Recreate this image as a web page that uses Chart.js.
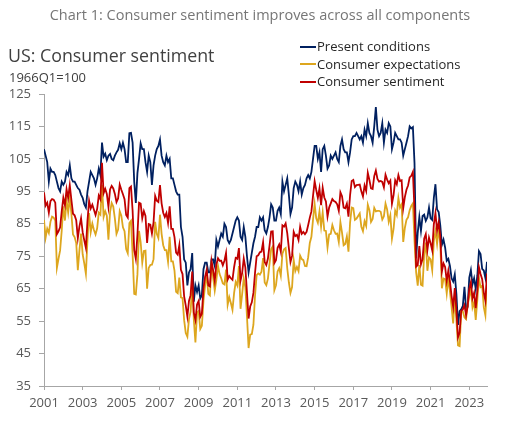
<!DOCTYPE html>
<html>
<head>
<meta charset="utf-8">
<script src="https://cdn.jsdelivr.net/npm/chart.js@4.4.1/dist/chart.umd.min.js"></script>
<style>
  html, body { margin: 0; padding: 0; background: #fff; }
  #wrap { position: relative; width: 508px; height: 428px; font-family: "Open Sans", sans-serif; }
  #chart { position: absolute; left: 0; top: 0; }
  .txt { position: absolute; white-space: nowrap; }
  #title { left: 0; width: 520px; top: 6px; text-align: center; font-size: 14.5px; line-height: 18px; color: #767676; }
  #heading { left: 8px; top: 43px; font-size: 17.8px; line-height: 24px; color: #404040; }
  #unit { left: 9px; top: 68px; font-size: 13px; line-height: 18px; color: #404040; }
  .leg { left: 300px; font-size: 13px; line-height: 18px; color: #262626; }
  .leg span { display: inline-block; width: 16px; height: 2px; vertical-align: middle; margin-right: 1px; position: relative; top: -1px; }
</style>
</head>
<body>
<div id="wrap">
  <canvas id="chart" width="508" height="428"></canvas>
  <div class="txt" id="title">Chart 1: Consumer sentiment improves across all components</div>
  <div class="txt" id="heading">US: Consumer sentiment</div>
  <div class="txt" id="unit">1966Q1=100</div>
  <div class="txt leg" style="top:37px"><span style="background:#002060"></span>Present conditions</div>
  <div class="txt leg" style="top:54.5px"><span style="background:#DDA61E"></span>Consumer expectations</div>
  <div class="txt leg" style="top:72px"><span style="background:#C00000"></span>Consumer sentiment</div>
</div>
<script>
// monthly, Jan 2001 - Dec 2023
const startYear = 2001;

const presentConditions = [
  108, 106, 104, 98, 102, 101, 101, 100, 98, 96, 95, 98,
  97, 98, 101, 100, 103, 99, 98, 98, 97, 96, 95.5, 94,
  93, 91, 90, 95, 98, 101, 100, 99, 97, 99, 102, 100,
  110, 105.7, 106.6, 104.6, 106, 106.5, 105, 104.6, 106, 107, 107.8, 109.8,
  108, 110, 108, 104, 104, 112.9, 113, 110, 98, 91.4, 100.6, 105,
  109.8, 108, 108, 104, 101, 106, 104, 97, 103, 106, 108, 109,
  111, 106, 104, 103, 106, 104, 105, 99, 99, 97, 95, 94,
  94, 84, 81, 74, 73, 66, 70, 71, 76, 61, 66, 64,
  66, 62, 63, 71, 73, 73, 70, 70, 74, 74, 72, 80,
  78, 80, 82, 81, 85, 84, 80, 79, 80, 82, 84, 86,
  87, 86, 81, 80, 84, 81, 75, 70, 73, 76, 79, 81,
  84, 84, 87, 86, 87, 83, 82, 84, 87, 91, 90, 86,
  86, 89, 90, 88, 98, 95, 97, 99, 94, 88, 90, 96,
  98, 97, 95, 98, 94, 96, 97, 99, 100, 99, 101, 105,
  109, 109, 105, 107, 101, 108, 109, 106, 102, 103, 106, 105,
  106, 107, 105, 104, 109, 111, 108, 107, 107, 104, 107, 111,
  112, 112, 113, 112, 111, 112, 110, 114, 112, 116, 113, 112,
  110, 115, 121, 114, 112, 113, 116, 110, 114, 113, 116, 115,
  108, 110, 113, 112, 111, 111, 110, 106, 108, 110, 112, 115,
  114.4, 114.8, 103.7, 74.3, 82.3, 87.1, 82.8, 87.4, 87.8, 85.9, 87.0, 90.0,
  86.7, 86.2, 93.0, 97.2, 89.4, 88.6, 84.5, 78.5, 80.1, 77.7, 73.6, 74.2,
  72.0, 68.2, 67.2, 69.4, 63.3, 53.8, 58.1, 58.6, 59.7, 65.6, 58.8, 59.4,
  68.4, 70.7, 66.3, 68.2, 64.9, 69.0, 76.6, 75.7, 71.1, 70.6, 68.3, 73.3
];

const consumerExpectations = [
  86.2, 80.7, 83.5, 82.2, 85.6, 87.2, 86.9, 86.0, 71.4, 74.2, 76.8, 82.9,
  90.4, 86.0, 92.3, 88.5, 93.0, 88.2, 81.7, 80.9, 79.1, 70.7, 76.9, 82.0,
  75.6, 72.8, 69.6, 80.2, 88.3, 82.4, 85.1, 83.1, 81.7, 83.6, 88.4, 87.8,
  97.0, 87.1, 88.9, 87.5, 80.1, 88.6, 91.4, 90.3, 86.6, 81.9, 83.2, 88.9,
  87.5, 83.9, 82.7, 77.2, 75.9, 85.2, 85.9, 75.6, 63.4, 63.2, 69.4, 82.8,
  79.3, 73.0, 76.6, 76.7, 65.0, 71.4, 72.3, 72.4, 74.1, 85.6, 81.9, 80.6,
  87.8, 81.9, 78.4, 76.9, 76.9, 73.3, 81.0, 73.4, 73.4, 70.6, 64.0, 63.6,
  68.4, 62.3, 62.1, 55.3, 51.3, 50.2, 55.6, 57.9, 66.6, 55.4, 48.4, 57.6,
  58.1, 52.6, 53.6, 61.3, 65.9, 69.4, 63.4, 62.9, 73.2, 68.4, 64.4, 67.7,
  72.1, 69.5, 68.2, 66.6, 66.3, 70.9, 60.0, 62.4, 60.6, 58.5, 63.6, 67.1,
  66.0, 72.0, 58.8, 63.3, 68.1, 65.4, 56.4, 46.7, 50.8, 51.0, 53.9, 62.8,
  69.2, 69.7, 69.3, 70.2, 74.4, 66.9, 66.1, 68.1, 72.7, 77.2, 78.0, 64.5,
  66.0, 70.3, 71.3, 69.0, 75.8, 77.1, 77.5, 71.3, 66.9, 63.7, 65.5, 73.8,
  70.4, 71.7, 70.4, 75.2, 74.1, 73.8, 72.0, 71.9, 74.7, 79.1, 81.0, 86.3,
  91.1, 86.7, 85.3, 88.8, 84.1, 88.5, 82.9, 82.8, 77.7, 81.7, 81.9, 84.6,
  83.0, 81.9, 82.0, 79.4, 85.5, 82.3, 78.4, 78.8, 81.1, 76.4, 85.3, 90.0,
  89.8, 86.2, 86.6, 87.4, 88.2, 84.1, 82.7, 85.8, 84.3, 90.9, 89.2, 85.6,
  86.5, 89.9, 88.8, 89.0, 89.0, 88.7, 86.3, 87.3, 91.2, 89.4, 85.6, 87.6,
  80.4, 83.4, 89.0, 87.7, 92.9, 90.0, 91.0, 79.4, 83.7, 86.2, 87.0, 89.2,
  90.5, 91.3, 79.7, 70.1, 65.9, 72.3, 66.2, 65.9, 75.6, 79.2, 70.5, 74.6,
  74.0, 70.7, 79.7, 82.7, 78.8, 83.5, 79.0, 65.1, 68.1, 67.9, 63.5, 68.3,
  64.1, 59.4, 54.3, 62.5, 55.2, 47.5, 47.3, 58.0, 58.0, 56.2, 55.6, 59.9,
  62.7, 64.7, 59.2, 60.9, 55.4, 61.5, 68.3, 65.5, 65.9, 59.3, 56.8, 67.4
];

const consumerSentiment = [
  94.7, 90.6, 91.5, 88.4, 92.0, 92.6, 92.4, 91.5, 81.8, 82.7, 83.9, 88.8,
  93.0, 90.7, 95.7, 93.0, 96.9, 92.4, 88.1, 87.6, 86.1, 80.6, 84.2, 86.7,
  82.4, 79.9, 77.6, 86.0, 92.1, 89.7, 90.9, 89.3, 87.7, 89.6, 93.7, 92.6,
  103.8, 94.4, 95.8, 94.2, 90.2, 95.6, 96.7, 95.9, 94.2, 91.7, 92.8, 97.1,
  95.5, 94.1, 92.6, 87.7, 86.9, 96.0, 96.5, 89.1, 76.9, 74.2, 81.6, 91.5,
  91.2, 86.7, 88.9, 87.4, 79.1, 84.9, 84.7, 82.0, 85.4, 93.6, 92.1, 91.7,
  96.9, 91.3, 88.4, 87.1, 88.3, 85.3, 90.4, 83.4, 83.4, 80.9, 76.1, 75.5,
  78.4, 70.8, 69.5, 62.6, 59.8, 56.4, 61.2, 63.0, 70.3, 57.6, 55.3, 60.1,
  61.2, 56.3, 57.3, 65.1, 68.7, 70.8, 66.0, 65.7, 73.5, 70.6, 67.4, 72.5,
  74.4, 73.6, 73.6, 72.2, 73.6, 76.0, 67.8, 68.9, 68.2, 67.7, 71.6, 74.5,
  74.2, 77.5, 67.5, 69.8, 74.3, 71.5, 63.7, 55.8, 59.5, 60.8, 63.7, 69.9,
  75.0, 75.3, 76.2, 76.4, 79.3, 73.2, 72.3, 74.3, 78.3, 82.6, 82.7, 72.9,
  73.8, 77.6, 78.6, 76.4, 84.5, 84.1, 85.1, 82.1, 77.5, 73.2, 75.1, 82.5,
  81.2, 81.6, 80.0, 84.1, 81.9, 82.5, 81.8, 82.5, 84.6, 86.9, 88.8, 93.6,
  98.1, 95.4, 93.0, 95.9, 90.7, 96.1, 93.1, 91.9, 87.2, 90.0, 91.3, 92.6,
  92.0, 91.7, 91.0, 89.0, 94.7, 93.5, 90.0, 89.8, 91.2, 87.2, 93.8, 98.2,
  98.5, 96.3, 96.9, 97.0, 97.1, 95.0, 93.4, 96.8, 95.1, 100.7, 98.5, 95.9,
  95.7, 99.7, 101.4, 98.8, 98.0, 98.2, 97.9, 96.2, 100.1, 98.6, 97.5, 98.3,
  91.2, 93.8, 98.4, 97.2, 100.0, 98.2, 98.4, 89.8, 93.2, 95.5, 96.8, 99.3,
  99.8, 101.0, 89.1, 71.8, 72.3, 78.1, 72.5, 74.1, 80.4, 81.8, 76.9, 80.7,
  79.0, 76.8, 84.9, 88.3, 82.9, 85.5, 81.2, 70.3, 72.8, 71.7, 67.4, 70.6,
  67.2, 62.8, 59.4, 65.2, 58.4, 50.0, 51.5, 58.2, 58.6, 59.9, 56.8, 59.7,
  64.9, 67.0, 62.0, 63.7, 59.0, 64.4, 71.6, 69.5, 67.9, 63.8, 61.3, 69.7
];

const months = consumerSentiment.map((_, i) => i);

const axisGrey = "#A6A6A6";
const tickFont = { family: "Open Sans", size: 13 };

function series(label, values, color) {
  return {
    label: label,
    data: values,
    borderColor: color,
    backgroundColor: color,
    borderWidth: 1.8,
    pointRadius: 0,
    tension: 0,
    fill: false
  };
}

new Chart(document.getElementById("chart"), {
  type: "line",
  data: {
    labels: months,
    datasets: [
      series("Consumer sentiment", consumerSentiment, "#C00000"),
      series("Consumer expectations", consumerExpectations, "#DDA61E"),
      series("Present conditions", presentConditions, "#002060")
    ]
  },
  options: {
    responsive: false,
    animation: false,
    events: [],
    layout: { padding: { top: 94, right: 21, left: 0, bottom: 0 } },
    plugins: { legend: { display: false }, title: { display: false }, tooltip: { enabled: false } },
    scales: {
      x: {
        type: "linear",
        min: 0,
        max: months.length - 1,
        afterFit: (scale) => { scale.height = 42; },
        border: { color: axisGrey, width: 1 },
        grid: { drawOnChartArea: false, drawTicks: true, tickLength: 4, color: axisGrey },
        ticks: {
          stepSize: 24,
          includeBounds: false,
          autoSkip: false,
          maxRotation: 0,
          padding: 5,
          color: "#595959",
          font: tickFont,
          callback: (v) => (v % 24 === 0 ? String(startYear + v / 12) : null)
        }
      },
      y: {
        min: 35,
        max: 125,
        afterFit: (scale) => { scale.width = 44; },
        border: { color: axisGrey, width: 1 },
        grid: { drawOnChartArea: false, drawTicks: true, tickLength: 5, color: axisGrey },
        ticks: { stepSize: 10, padding: 8, color: "#595959", font: tickFont }
      }
    }
  }
});
</script>
</body>
</html>
